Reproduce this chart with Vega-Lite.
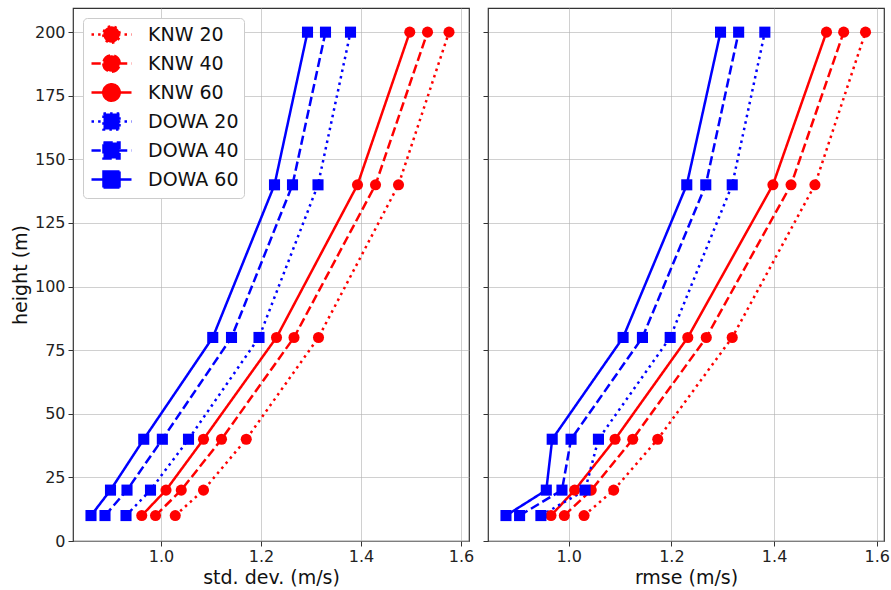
{
  "$schema": "https://vega.github.io/schema/vega-lite/v6.json",
  "padding": {"left": 10, "top": 7, "right": 2, "bottom": 5},
  "background": "white",
  "spacing": 6,
  "config": {
    "font": "DejaVu Sans",
    "view": {"stroke": "#333333", "strokeWidth": 1.2},
    "axis": {
      "domain": false, "grid": true, "gridColor": "#b0b0b0", "gridOpacity": 0.6, "gridWidth": 1,
      "tickColor": "#333333", "tickSize": 5, "labelFontSize": 16, "labelColor": "#222222",
      "titleFontSize": 19, "titleFontWeight": "normal", "titleColor": "#111111"
    },
    "legend": {
      "title": null, "orient": "top-left", "offset": 10, "fillColor": "white", "strokeColor": "#cccccc",
      "cornerRadius": 4, "padding": 5, "labelFontSize": 19, "labelColor": "#111111", "labelOffset": 25,
      "symbolSize": 400, "symbolOffset": 12, "symbolStrokeWidth": 2.5, "rowPadding": 2, "symbolOpacity": 1
    }
  },
  "datasets": {
    "d": [
      {"panel": "std", "series": "KNW 20", "height": 10, "value": 1.0285},
      {"panel": "std", "series": "KNW 20", "height": 20, "value": 1.085},
      {"panel": "std", "series": "KNW 20", "height": 40, "value": 1.1705},
      {"panel": "std", "series": "KNW 20", "height": 80, "value": 1.315},
      {"panel": "std", "series": "KNW 20", "height": 140, "value": 1.475},
      {"panel": "std", "series": "KNW 20", "height": 200, "value": 1.576},
      {"panel": "std", "series": "KNW 40", "height": 10, "value": 0.989},
      {"panel": "std", "series": "KNW 40", "height": 20, "value": 1.0405},
      {"panel": "std", "series": "KNW 40", "height": 40, "value": 1.121},
      {"panel": "std", "series": "KNW 40", "height": 80, "value": 1.266},
      {"panel": "std", "series": "KNW 40", "height": 140, "value": 1.429},
      {"panel": "std", "series": "KNW 40", "height": 200, "value": 1.533},
      {"panel": "std", "series": "KNW 60", "height": 10, "value": 0.9615},
      {"panel": "std", "series": "KNW 60", "height": 20, "value": 1.01},
      {"panel": "std", "series": "KNW 60", "height": 40, "value": 1.085},
      {"panel": "std", "series": "KNW 60", "height": 80, "value": 1.231},
      {"panel": "std", "series": "KNW 60", "height": 140, "value": 1.393},
      {"panel": "std", "series": "KNW 60", "height": 200, "value": 1.4975},
      {"panel": "std", "series": "DOWA 20", "height": 10, "value": 0.93},
      {"panel": "std", "series": "DOWA 20", "height": 20, "value": 0.979},
      {"panel": "std", "series": "DOWA 20", "height": 40, "value": 1.055},
      {"panel": "std", "series": "DOWA 20", "height": 80, "value": 1.196},
      {"panel": "std", "series": "DOWA 20", "height": 140, "value": 1.314},
      {"panel": "std", "series": "DOWA 20", "height": 200, "value": 1.379},
      {"panel": "std", "series": "DOWA 40", "height": 10, "value": 0.888},
      {"panel": "std", "series": "DOWA 40", "height": 20, "value": 0.932},
      {"panel": "std", "series": "DOWA 40", "height": 40, "value": 1.0027},
      {"panel": "std", "series": "DOWA 40", "height": 80, "value": 1.141},
      {"panel": "std", "series": "DOWA 40", "height": 140, "value": 1.263},
      {"panel": "std", "series": "DOWA 40", "height": 200, "value": 1.329},
      {"panel": "std", "series": "DOWA 60", "height": 10, "value": 0.86},
      {"panel": "std", "series": "DOWA 60", "height": 20, "value": 0.899},
      {"panel": "std", "series": "DOWA 60", "height": 40, "value": 0.9655},
      {"panel": "std", "series": "DOWA 60", "height": 80, "value": 1.1035},
      {"panel": "std", "series": "DOWA 60", "height": 140, "value": 1.227},
      {"panel": "std", "series": "DOWA 60", "height": 200, "value": 1.293},
      {"panel": "rmse", "series": "KNW 20", "height": 10, "value": 1.03},
      {"panel": "rmse", "series": "KNW 20", "height": 20, "value": 1.0877},
      {"panel": "rmse", "series": "KNW 20", "height": 40, "value": 1.1735},
      {"panel": "rmse", "series": "KNW 20", "height": 80, "value": 1.3185},
      {"panel": "rmse", "series": "KNW 20", "height": 140, "value": 1.4795},
      {"panel": "rmse", "series": "KNW 20", "height": 200, "value": 1.578},
      {"panel": "rmse", "series": "KNW 40", "height": 10, "value": 0.9916},
      {"panel": "rmse", "series": "KNW 40", "height": 20, "value": 1.044},
      {"panel": "rmse", "series": "KNW 40", "height": 40, "value": 1.1248},
      {"panel": "rmse", "series": "KNW 40", "height": 80, "value": 1.268},
      {"panel": "rmse", "series": "KNW 40", "height": 140, "value": 1.433},
      {"panel": "rmse", "series": "KNW 40", "height": 200, "value": 1.5355},
      {"panel": "rmse", "series": "KNW 60", "height": 10, "value": 0.9657},
      {"panel": "rmse", "series": "KNW 60", "height": 20, "value": 1.0118},
      {"panel": "rmse", "series": "KNW 60", "height": 40, "value": 1.0904},
      {"panel": "rmse", "series": "KNW 60", "height": 80, "value": 1.232},
      {"panel": "rmse", "series": "KNW 60", "height": 140, "value": 1.3977},
      {"panel": "rmse", "series": "KNW 60", "height": 200, "value": 1.502},
      {"panel": "rmse", "series": "DOWA 20", "height": 10, "value": 0.946},
      {"panel": "rmse", "series": "DOWA 20", "height": 20, "value": 1.032},
      {"panel": "rmse", "series": "DOWA 20", "height": 40, "value": 1.058},
      {"panel": "rmse", "series": "DOWA 20", "height": 80, "value": 1.1977},
      {"panel": "rmse", "series": "DOWA 20", "height": 140, "value": 1.3185},
      {"panel": "rmse", "series": "DOWA 20", "height": 200, "value": 1.382},
      {"panel": "rmse", "series": "DOWA 40", "height": 10, "value": 0.9045},
      {"panel": "rmse", "series": "DOWA 40", "height": 20, "value": 0.987},
      {"panel": "rmse", "series": "DOWA 40", "height": 40, "value": 1.0047},
      {"panel": "rmse", "series": "DOWA 40", "height": 80, "value": 1.1437},
      {"panel": "rmse", "series": "DOWA 40", "height": 140, "value": 1.267},
      {"panel": "rmse", "series": "DOWA 40", "height": 200, "value": 1.331},
      {"panel": "rmse", "series": "DOWA 60", "height": 10, "value": 0.878},
      {"panel": "rmse", "series": "DOWA 60", "height": 20, "value": 0.9565},
      {"panel": "rmse", "series": "DOWA 60", "height": 40, "value": 0.968},
      {"panel": "rmse", "series": "DOWA 60", "height": 80, "value": 1.106},
      {"panel": "rmse", "series": "DOWA 60", "height": 140, "value": 1.23},
      {"panel": "rmse", "series": "DOWA 60", "height": 200, "value": 1.2957}
    ]
  },
  "resolve": {
    "scale": {"color": "independent", "strokeDash": "independent", "shape": "independent"},
    "legend": {"color": "independent", "strokeDash": "independent", "shape": "independent"}
  },
  "hconcat": [
    {
      "width": 396,
      "height": 533,
      "data": {"name": "d"},
      "transform": [{"filter": "datum.panel === 'std'"}],
      "layer": [
        {
          "mark": {"type": "line", "strokeWidth": 2.5},
          "encoding": {
            "x": {"field": "value", "type": "quantitative", "scale": {"domain": [0.824, 1.616], "nice": false, "zero": false}, "axis": {"values": [1.0, 1.2, 1.4, 1.6], "format": ".1f", "title": "std. dev. (m/s)", "titlePadding": 4, "labelPadding": 2}},
            "y": {"field": "height", "type": "quantitative", "scale": {"domain": [0, 209.5], "nice": false}, "axis": {"values": [0, 25, 50, 75, 100, 125, 150, 175, 200], "title": "height (m)", "titlePadding": 4, "labelPadding": 3}},
            "color": {"field": "series", "type": "nominal", "scale": {"domain": ["KNW 20", "KNW 40", "KNW 60", "DOWA 20", "DOWA 40", "DOWA 60"], "range": ["#ff0000", "#ff0000", "#ff0000", "#0000ff", "#0000ff", "#0000ff"]}},
            "strokeDash": {"field": "series", "type": "nominal", "scale": {"domain": ["KNW 20", "KNW 40", "KNW 60", "DOWA 20", "DOWA 40", "DOWA 60"], "range": [[2.5, 4.1], [9.25, 4], [1, 0], [2.5, 4.1], [9.25, 4], [1, 0]]}},
            "order": {"field": "height", "type": "quantitative"}
          }
        },
        {
          "mark": {"type": "point", "filled": true, "opacity": 1, "size": 123},
          "encoding": {
            "x": {"field": "value", "type": "quantitative"},
            "y": {"field": "height", "type": "quantitative"},
            "color": {"field": "series", "type": "nominal"},
            "shape": {"condition": {"test": "indexof(datum.series, 'KNW') >= 0", "value": "circle"}, "value": "square"}
          }
        },
        {
          "transform": [{"filter": "false"}],
          "mark": {"type": "point", "filled": true, "opacity": 1, "strokeWidth": 2.5},
          "encoding": {
            "x": {"field": "value", "type": "quantitative"},
            "y": {"field": "height", "type": "quantitative"},
            "shape": {"field": "series", "type": "nominal", "scale": {"domain": ["KNW 20", "KNW 40", "KNW 60", "DOWA 20", "DOWA 40", "DOWA 60"], "range": [
              "M-2,0H2M-0.82,0A0.82,0.82,0,1,0,0.82,0A0.82,0.82,0,1,0,-0.82,0Z",
              "M-2,0H2M-0.82,0A0.82,0.82,0,1,0,0.82,0A0.82,0.82,0,1,0,-0.82,0Z",
              "M-2,0H2M-0.82,0A0.82,0.82,0,1,0,0.82,0A0.82,0.82,0,1,0,-0.82,0Z",
              "M-2,0H2M-0.8,-0.8H0.8V0.8H-0.8Z",
              "M-2,0H2M-0.8,-0.8H0.8V0.8H-0.8Z",
              "M-2,0H2M-0.8,-0.8H0.8V0.8H-0.8Z"]}},
            "color": {"field": "series", "type": "nominal"},
            "strokeDash": {"field": "series", "type": "nominal"}
          }
        }
      ]
    },
    {
      "width": 396,
      "height": 533,
      "data": {"name": "d"},
      "transform": [{"filter": "datum.panel === 'rmse'"}],
      "layer": [
        {
          "mark": {"type": "line", "strokeWidth": 2.5},
          "encoding": {
            "x": {"field": "value", "type": "quantitative", "scale": {"domain": [0.843, 1.614], "nice": false, "zero": false}, "axis": {"values": [1.0, 1.2, 1.4, 1.6], "format": ".1f", "title": "rmse (m/s)", "titlePadding": 4, "labelPadding": 2}},
            "y": {"field": "height", "type": "quantitative", "scale": {"domain": [0, 209.5], "nice": false}, "axis": {"values": [0, 25, 50, 75, 100, 125, 150, 175, 200], "labels": false, "title": null}},
            "color": {"field": "series", "type": "nominal", "scale": {"domain": ["KNW 20", "KNW 40", "KNW 60", "DOWA 20", "DOWA 40", "DOWA 60"], "range": ["#ff0000", "#ff0000", "#ff0000", "#0000ff", "#0000ff", "#0000ff"]}, "legend": null},
            "strokeDash": {"field": "series", "type": "nominal", "scale": {"domain": ["KNW 20", "KNW 40", "KNW 60", "DOWA 20", "DOWA 40", "DOWA 60"], "range": [[2.5, 4.1], [9.25, 4], [1, 0], [2.5, 4.1], [9.25, 4], [1, 0]]}, "legend": null},
            "order": {"field": "height", "type": "quantitative"}
          }
        },
        {
          "mark": {"type": "point", "filled": true, "opacity": 1, "size": 123},
          "encoding": {
            "x": {"field": "value", "type": "quantitative"},
            "y": {"field": "height", "type": "quantitative"},
            "color": {"field": "series", "type": "nominal", "legend": null},
            "shape": {"condition": {"test": "indexof(datum.series, 'KNW') >= 0", "value": "circle"}, "value": "square"}
          }
        }
      ]
    }
  ]
}
